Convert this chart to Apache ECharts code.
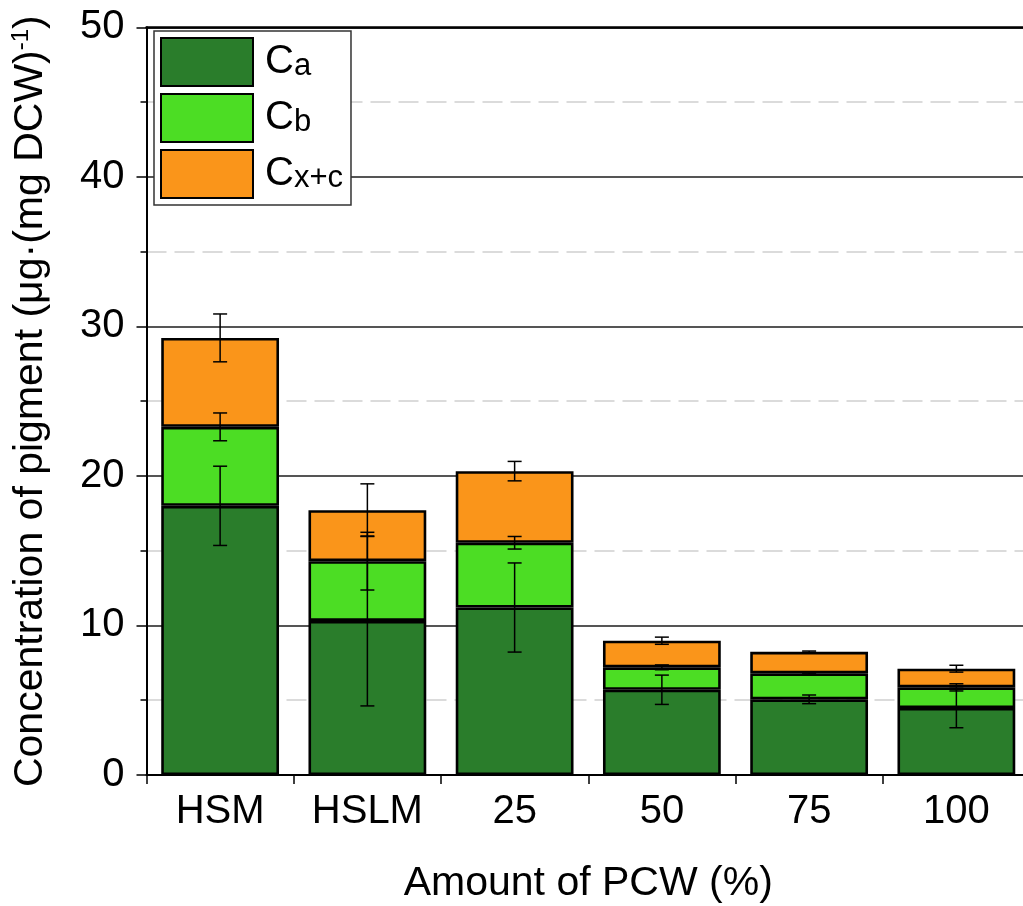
<!DOCTYPE html>
<html>
<head>
<meta charset="utf-8">
<script src="https://cdn.jsdelivr.net/npm/echarts@6/dist/echarts.min.js"></script>
<style>html,body{margin:0;padding:0;background:#fff}#c{width:1023px;height:906px}</style>
</head>
<body>
<div id="c"></div>
<script>
const categories = ['HSM', 'HSLM', '25', '50', '75', '100'];
const ca = [18.0, 10.3, 11.2, 5.7, 5.06, 4.48];
const cb = [5.28, 4.0, 4.33, 1.5, 1.74, 1.38];
const cxc = [5.95, 3.41, 4.79, 1.78, 1.44, 1.25];
const caErr = [2.65, 5.68, 2.98, 0.98, 0.29, 1.32];
const cbErr = [0.93, 1.93, 0.42, 0.16, 0.04, 0.24];
const cxcErr = [1.6, 1.76, 0.65, 0.24, 0.05, 0.23];
const yTicks = [0, 10, 20, 30, 40, 50];

const FONT = 'Liberation Sans, Arial, sans-serif';
const colors = {ca: '#2a7d2b', cb: '#4cdd24', cxc: '#fa951a'};

const errData = [];
categories.forEach((c, i) => {
  const t1 = ca[i], t2 = ca[i] + cb[i], t3 = ca[i] + cb[i] + cxc[i];
  errData.push([i, t1, caErr[i]]);
  errData.push([i, t2, cbErr[i]]);
  errData.push([i, t3, cxcErr[i]]);
});

function renderErr(params, api) {
  const x = api.value(0), y = api.value(1), e = api.value(2);
  const hi = api.coord([x, y + e]);
  const lo = api.coord([x, y - e]);
  const half = 7;
  const st = {stroke: '#000', lineWidth: 1.5};
  return {
    type: 'group',
    children: [
      {type: 'line', shape: {x1: hi[0], y1: hi[1], x2: lo[0], y2: lo[1]}, style: st},
      {type: 'line', shape: {x1: hi[0] - half, y1: hi[1], x2: hi[0] + half, y2: hi[1]}, style: st},
      {type: 'line', shape: {x1: lo[0] - half, y1: lo[1], x2: lo[0] + half, y2: lo[1]}, style: st}
    ]
  };
}

const barStyle = (col) => ({color: col, borderColor: '#000', borderWidth: 2.6});

const chart = echarts.init(document.getElementById('c'));
chart.setOption({
  animation: false,
  textStyle: {fontFamily: FONT},
  grid: {left: 146.5, right: -7, top: 27.3, bottom: 131, containLabel: false, outerBoundsMode: 'none'},
  legend: {
    left: 154, top: 31, orient: 'vertical',
    data: ['Ca', 'Cb', 'Cx+c'],
    itemWidth: 92, itemHeight: 48, itemGap: 6, padding: [6, 8, 6, 6],
    borderColor: '#333', borderWidth: 1.5, backgroundColor: '#fff',
    icon: 'rect',
    formatter: (n) => '{c|C}{s|' + n.slice(1) + '}',
    textStyle: {
      fontFamily: FONT, color: '#000',
      rich: {
        c: {fontSize: 40, fontFamily: FONT, color: '#000', padding: [0, 0, 0, 7]},
        s: {fontSize: 31, fontFamily: FONT, color: '#000', padding: [8, 0, 0, 0]}
      }
    }
  },
  xAxis: [{
    type: 'category', data: categories, position: 'bottom',
    axisLine: {lineStyle: {color: '#000', width: 2}},
    axisTick: {show: true, length: 9, lineStyle: {color: '#000', width: 1.5}},
    axisLabel: {fontSize: 40, color: '#000', fontFamily: FONT, margin: 17},
    name: 'Amount of PCW (%)', nameLocation: 'middle', nameGap: 88,
    nameTextStyle: {fontSize: 41, color: '#000', fontFamily: FONT}
  }, {
    type: 'category', data: categories, position: 'top',
    axisLine: {lineStyle: {color: '#000', width: 2.5}},
    axisTick: {show: false}, axisLabel: {show: false}
  }],
  yAxis: {
    type: 'value', min: yTicks[0], max: yTicks[yTicks.length - 1], interval: 10,
    axisLine: {show: true, lineStyle: {color: '#000', width: 2}},
    axisTick: {show: true, length: 10, lineStyle: {color: '#000', width: 1.5}},
    minorTick: {show: true, splitNumber: 2, length: 6, lineStyle: {color: '#000', width: 1.5}},
    axisLabel: {fontSize: 40, color: '#000', fontFamily: FONT, margin: 22},
    splitLine: {show: true, lineStyle: {color: '#555', width: 1.8}},
    minorSplitLine: {show: true, lineStyle: {color: '#d0d0d0', width: 1.5, type: [20, 8]}},
    name: '{n|Concentration of pigment (μg·(mg DCW)}{sup|-1}{n|)}',
    nameLocation: 'middle', nameGap: 95,
    nameTextStyle: {
      fontSize: 41, color: '#000', fontFamily: FONT,
      rich: {
        n: {fontSize: 41, fontFamily: FONT, color: '#000'},
        sup: {fontSize: 24, fontFamily: FONT, color: '#000', padding: [0, 0, 18, 0]}
      }
    }
  },
  series: [
    {name: 'Ca', type: 'bar', stack: 'total', data: ca, barCategoryGap: '20%', itemStyle: barStyle(colors.ca)},
    {name: 'Cb', type: 'bar', stack: 'total', data: cb, itemStyle: barStyle(colors.cb)},
    {name: 'Cx+c', type: 'bar', stack: 'total', data: cxc, itemStyle: barStyle(colors.cxc)},
    {name: 'err', type: 'custom', renderItem: renderErr, data: errData, z: 10, encode: {x: 0, y: 1}}
  ]
});
</script>
</body>
</html>
